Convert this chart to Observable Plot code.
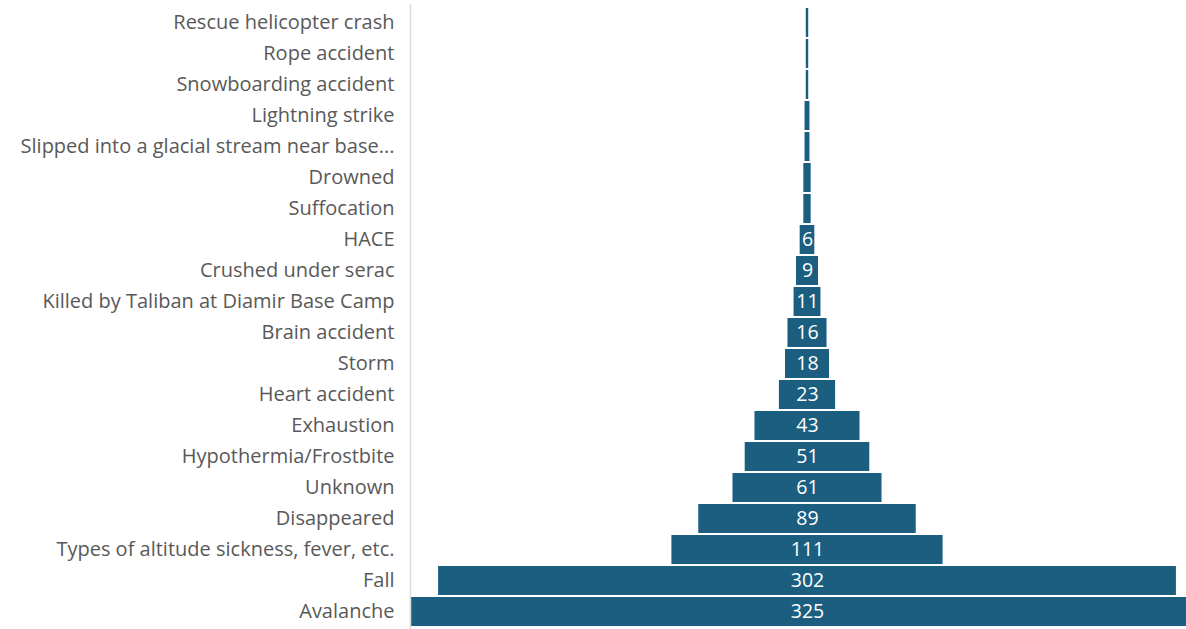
<!DOCTYPE html>
<html><head><meta charset="utf-8">
<script src="https://cdn.jsdelivr.net/npm/d3@7"></script>
<script src="https://cdn.jsdelivr.net/npm/@observablehq/plot@0.6"></script>
<style>html,body{margin:0;padding:0;background:#fff;overflow:hidden} svg{overflow:hidden;display:block}</style>
</head><body><div id="chart"></div>
<script>
const categories = ["Rescue helicopter crash","Rope accident","Snowboarding accident","Lightning strike","Slipped into a glacial stream near base...","Drowned","Suffocation","HACE","Crushed under serac","Killed by Taliban at Diamir Base Camp","Brain accident","Storm","Heart accident","Exhaustion","Hypothermia/Frostbite","Unknown","Disappeared","Types of altitude sickness, fever, etc.","Fall","Avalanche"];
const values = [1,1,1,2,2,3,3,6,9,11,16,18,23,43,51,61,89,111,302,325];
const data = categories.map((c,i)=>({cause:c, value:values[i]}));
const maxV = d3.max(values);
const left = 410, center = 807, W = 1186;
const xMax = (maxV/2)*(W-center)/(center-left);
const chart = Plot.plot({
  width: W, height: 629,
  marginLeft: left, marginRight: 0, marginTop: 4, marginBottom: 0,
  style: {fontFamily: "Open Sans", background: "#fff"},
  x: {domain: [-maxV/2, xMax], axis: null},
  y: {domain: categories, paddingInner: 0.07, paddingOuter: 0, label: null},
  marks: [
    Plot.barX(data, {y: "cause", x1: d => -d.value/2, x2: d => d.value/2, fill: "#1b5e80", clip: true}),
    Plot.ruleX([-maxV/2], {stroke: "#d9d9d9", strokeWidth: 1.5}),
    Plot.text(data.filter(d => d.value >= 6), {y: "cause", x: 0, text: d => String(d.value), fill: "white", fontSize: 19.5}),
    Plot.axisY({tickSize: 0, tickPadding: 16, fontSize: 20, fill: "#595959", label: null})
  ]
});
document.getElementById("chart").append(chart);
</script></body></html>
